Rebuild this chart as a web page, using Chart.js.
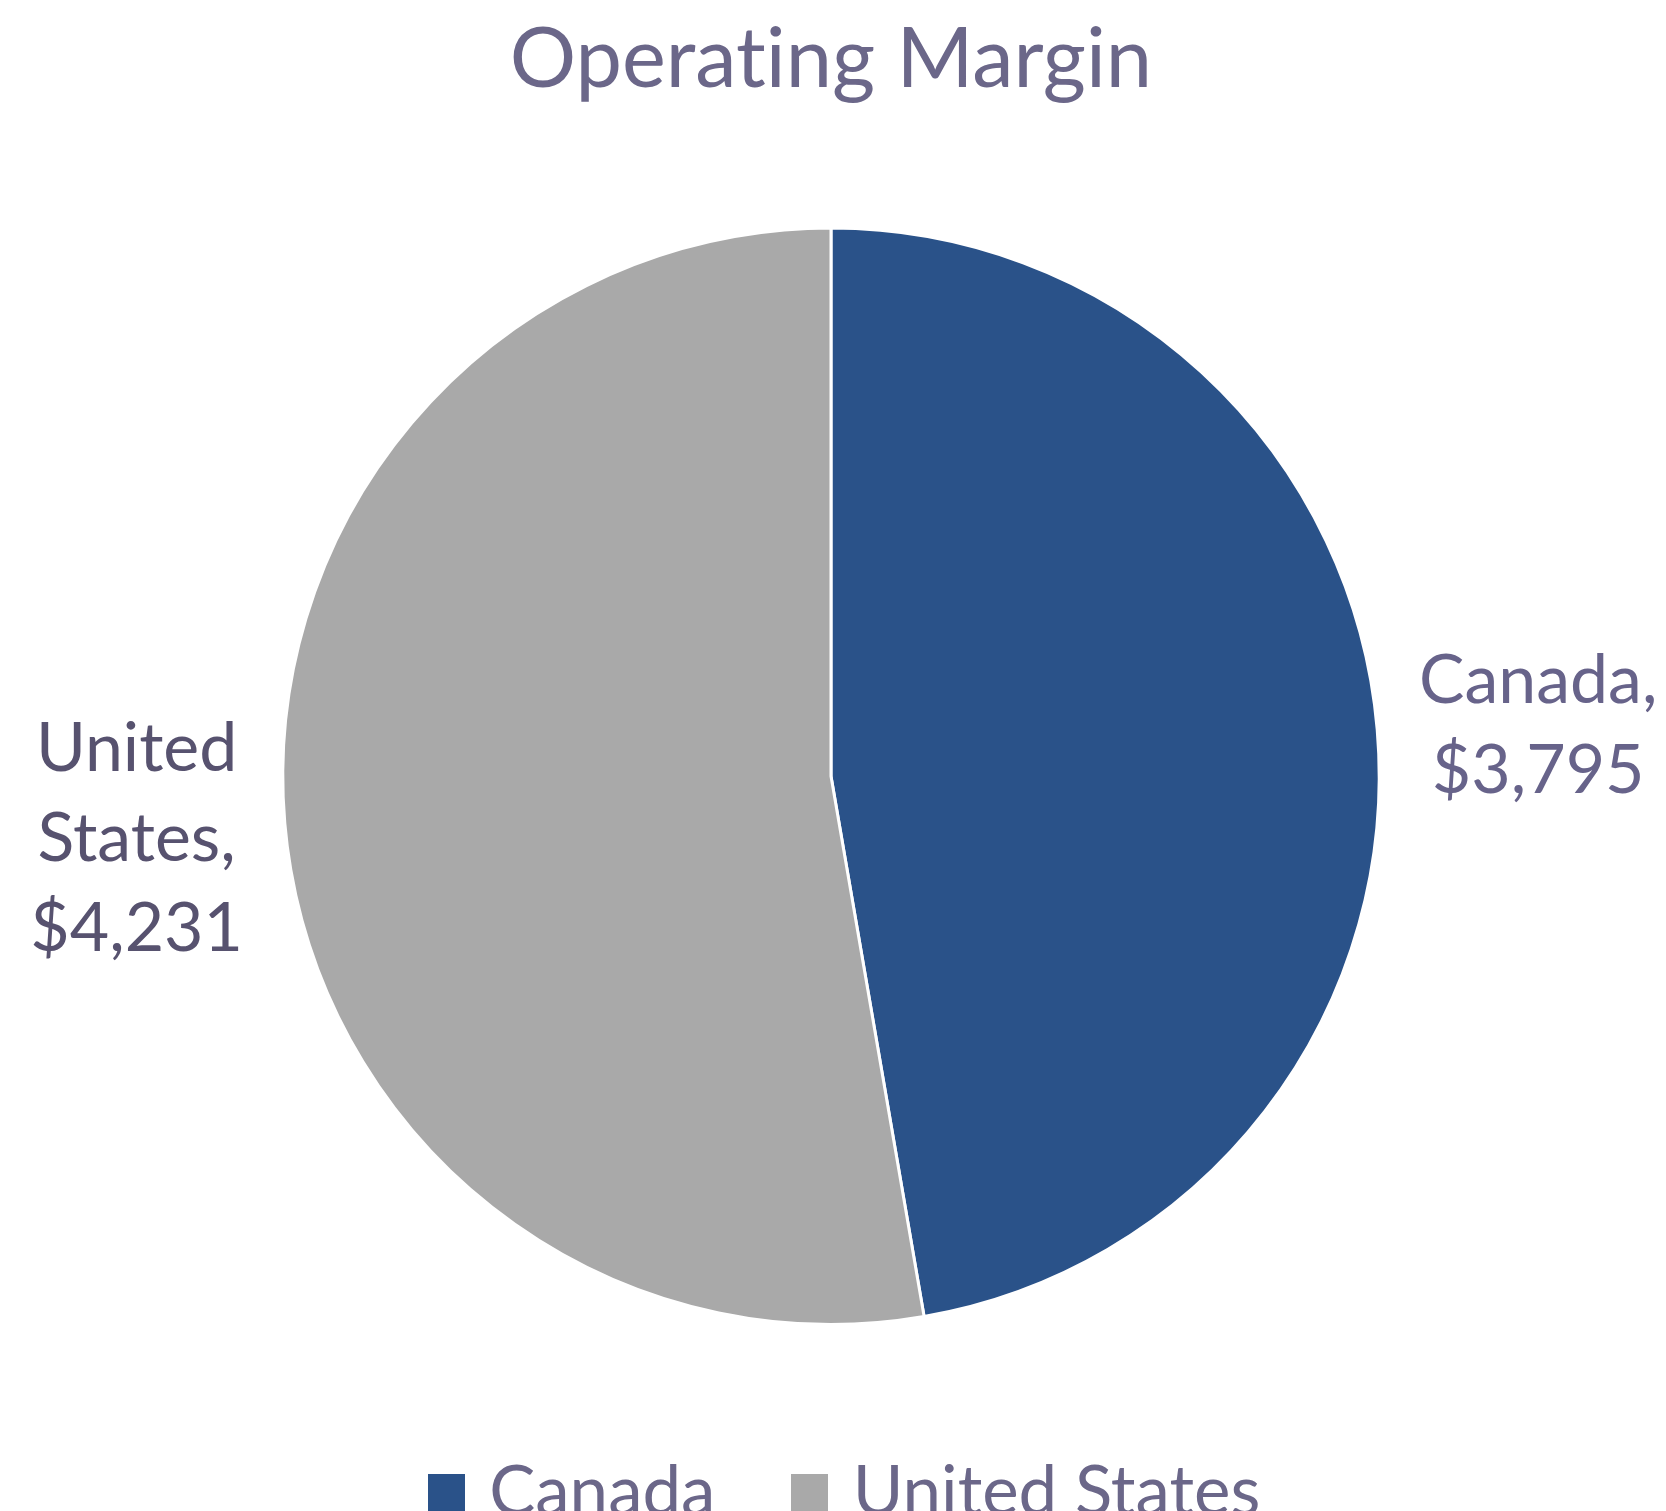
<!DOCTYPE html>
<html>
<head>
<meta charset="utf-8">
<script src="https://cdn.jsdelivr.net/npm/chart.js@4.4.0/dist/chart.umd.min.js"></script>
<style>
    html, body { margin: 0; padding: 0; background: #ffffff; overflow: hidden; }
    #wrap { width: 1666px; height: 1537px; position: relative; }
</style>
</head>
<body>
<div id="wrap"><canvas id="pieChart"></canvas></div>
<script>
    const categories = ['Canada', 'United States'];
    const values = [3795, 4231];
    const sliceColors = ['#2A5289', '#A9A9A9'];
    const labelColors = ['#67638A', '#57526F'];
    const chartTitle = 'Operating Margin';

    const FONT = 'Lato, "Open Sans", sans-serif';

    // square legend swatch, drawn bigger than the spacing box
    function swatch(color) {
        const c = document.createElement('canvas');
        c.width = 37;
        c.height = 37;
        const g = c.getContext('2d');
        g.fillStyle = color;
        g.fillRect(0, 0, 37, 37);
        return c;
    }

    // no "ti" ligature, calibri has none
    const plainText = {
        id: 'plainText',
        beforeDraw(chart) {
            chart.ctx.textRendering = 'optimizeSpeed';
        }
    };

    // legend sits a bit right of the canvas middle in the original
    const legendShift = {
        id: 'legendShift',
        afterLayout(chart) {
            chart.legend.left += 18;
            chart.legend.right += 18;
        }
    };

    // data labels outside the pie, like the office style
    const outsideLabels = {
        id: 'outsideLabels',
        afterDraw(chart) {
            const ctx = chart.ctx;
            const meta = chart.getDatasetMeta(0);
            ctx.save();
            ctx.font = '68px ' + FONT;
            ctx.textAlign = 'center';
            ctx.textBaseline = 'alphabetic';
            const lineH = 90;
            const cap = 49;
            meta.data.forEach((arc, i) => {
                const p = arc.getProps(['x', 'y', 'startAngle', 'endAngle', 'outerRadius'], true);
                const mid = (p.startAngle + p.endAngle) / 2;
                const dx = Math.cos(mid), dy = Math.sin(mid);
                const words = categories[i].split(' ');
                words[words.length - 1] += ',';
                const lines = words.concat('$' + values[i].toLocaleString('en-US'));
                const w = Math.max(...lines.map(l => ctx.measureText(l).width));
                const ax = p.x + (p.outerRadius + 42) * dx;
                const ay = p.y + (p.outerRadius + 42) * dy * 1.12 + 4;
                const cx = dx >= 0 ? ax + w / 2 : ax - w / 2;
                const blockH = cap + lineH * (lines.length - 1);
                let base = ay - blockH / 2 + cap;
                ctx.fillStyle = labelColors[i];
                lines.forEach((l, k) => {
                    ctx.fillText(l, cx, base + k * lineH);
                });
            });
            ctx.restore();
        }
    };

    const ctx = document.getElementById('pieChart').getContext('2d');
    new Chart(ctx, {
        type: 'pie',
        data: {
            labels: categories,
            datasets: [{
                data: values,
                backgroundColor: sliceColors,
                borderColor: '#ffffff',
                borderWidth: 3
            }]
        },
        options: {
            responsive: true,
            maintainAspectRatio: false,
            animation: false,
            layout: {
                padding: { left: 0, right: 4, top: 0, bottom: 0 }
            },
            plugins: {
                title: {
                    display: true,
                    text: chartTitle,
                    color: '#6B6789',
                    font: { family: FONT, size: 83, weight: 'normal' },
                    padding: { top: 10, bottom: 117 }
                },
                legend: {
                    position: 'bottom',
                    title: {
                        display: true,
                        text: ' ',
                        font: { size: 10 },
                        padding: { top: 34, bottom: 0 }
                    },
                    labels: {
                        color: '#6B6789',
                        font: { family: FONT, size: 69 },
                        usePointStyle: true,
                        boxWidth: 17,
                        boxHeight: 37,
                        padding: 86,
                        generateLabels(chart) {
                            const items = Chart.controllers.pie.overrides.plugins.legend.labels.generateLabels(chart);
                            items.forEach((it, i) => {
                                it.pointStyle = swatch(sliceColors[i]);
                                it.lineWidth = 0;
                            });
                            return items;
                        }
                    }
                },
                tooltip: { enabled: false }
            }
        },
        plugins: [plainText, legendShift, outsideLabels]
    });
</script>
</body>
</html>
